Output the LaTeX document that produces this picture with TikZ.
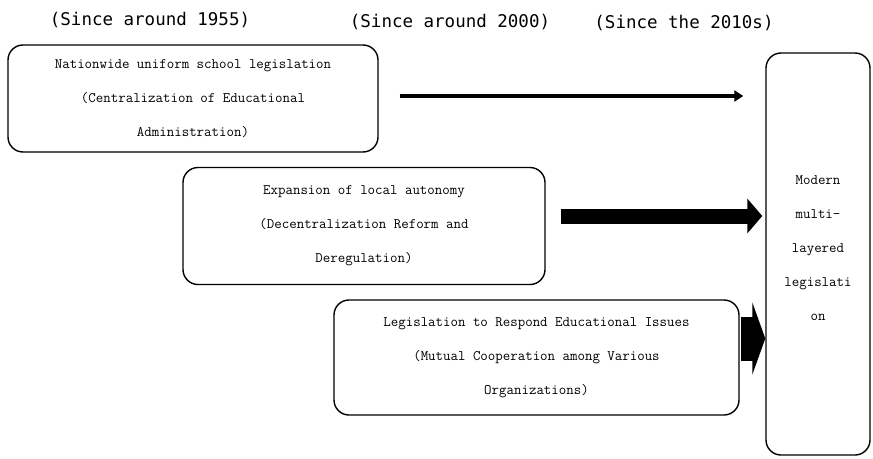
\documentclass[tikz,border=0pt]{standalone}
\usepackage{fontspec}
\newfontfamily\headfont{DejaVu Sans Mono}
\usepackage{tikz}
\usetikzlibrary{arrows.meta}

\begin{document}
\begin{tikzpicture}[x=1pt, y=-1pt,
    era/.style={font=\headfont\fontsize{17.5}{20}\selectfont},
    stage/.style={draw, line width=1.4pt, rounded corners=15pt, inner sep=0pt,
                  align=center, font=\ttfamily\fontsize{14.5}{34}\selectfont},
    thinarrow/.style={line width=4pt, -{Triangle[length=9pt,width=11pt]}},
    fatarrow/.style={line width=15pt, -{Triangle[length=15pt,width=34pt]}},
    blockarrow/.style={line width=44pt, -{Triangle[length=13pt,width=72pt]}}]
                        \useasboundingbox (0, 0) rectangle (873, 458);

                        \node (e1) at (150, 20) [era] {(Since around 1955)};
                        \node (e2) at (450, 22) [era] {(Since around 2000)};
                        \node (e3) at (684, 23) [era] {(Since the 2010s)};

                        \node (uniform) at (193, 98.5) [stage, minimum width=370pt, minimum height=107pt]
                            {Nationwide uniform school legislation\\(Centralization of Educational\\Administration)};
                        \node (local) at (364, 226) [stage, minimum width=362pt, minimum height=117pt]
                            {Expansion of local autonomy\\(Decentralization Reform and\\Deregulation)};
                        \node (issues) at (536.5, 357.5) [stage, minimum width=405pt, minimum height=115pt]
                            {Legislation to Respond Educational Issues\\(Mutual Cooperation among Various\\Organizations)};
                        \node (modern) at (818, 254) [stage, minimum width=104pt, minimum height=402pt]
                            {Modern\\multi-\\layered\\legislati\\on\\[-22pt]\mbox{}};

                        \coordinate (a1) at ([xshift=21pt, yshift=2.5pt]uniform.east);
                        \coordinate (b1) at ([xshift=-22pt]modern.west |- a1);
                        \coordinate (a2) at ([xshift=15pt, yshift=10pt]local.east);
                        \coordinate (b2) at ([xshift=-3pt]modern.west |- a2);
                        \coordinate (a3) at ([xshift=1pt, yshift=19pt]issues.east);
                        \coordinate (b3) at (modern.west |- a3);

                        \draw[thinarrow] (a1) -- (b1);
                        \draw[fatarrow] (a2) -- (b2);
                        \draw[blockarrow] (a3) -- (b3);
                    \end{tikzpicture}
\end{document}
